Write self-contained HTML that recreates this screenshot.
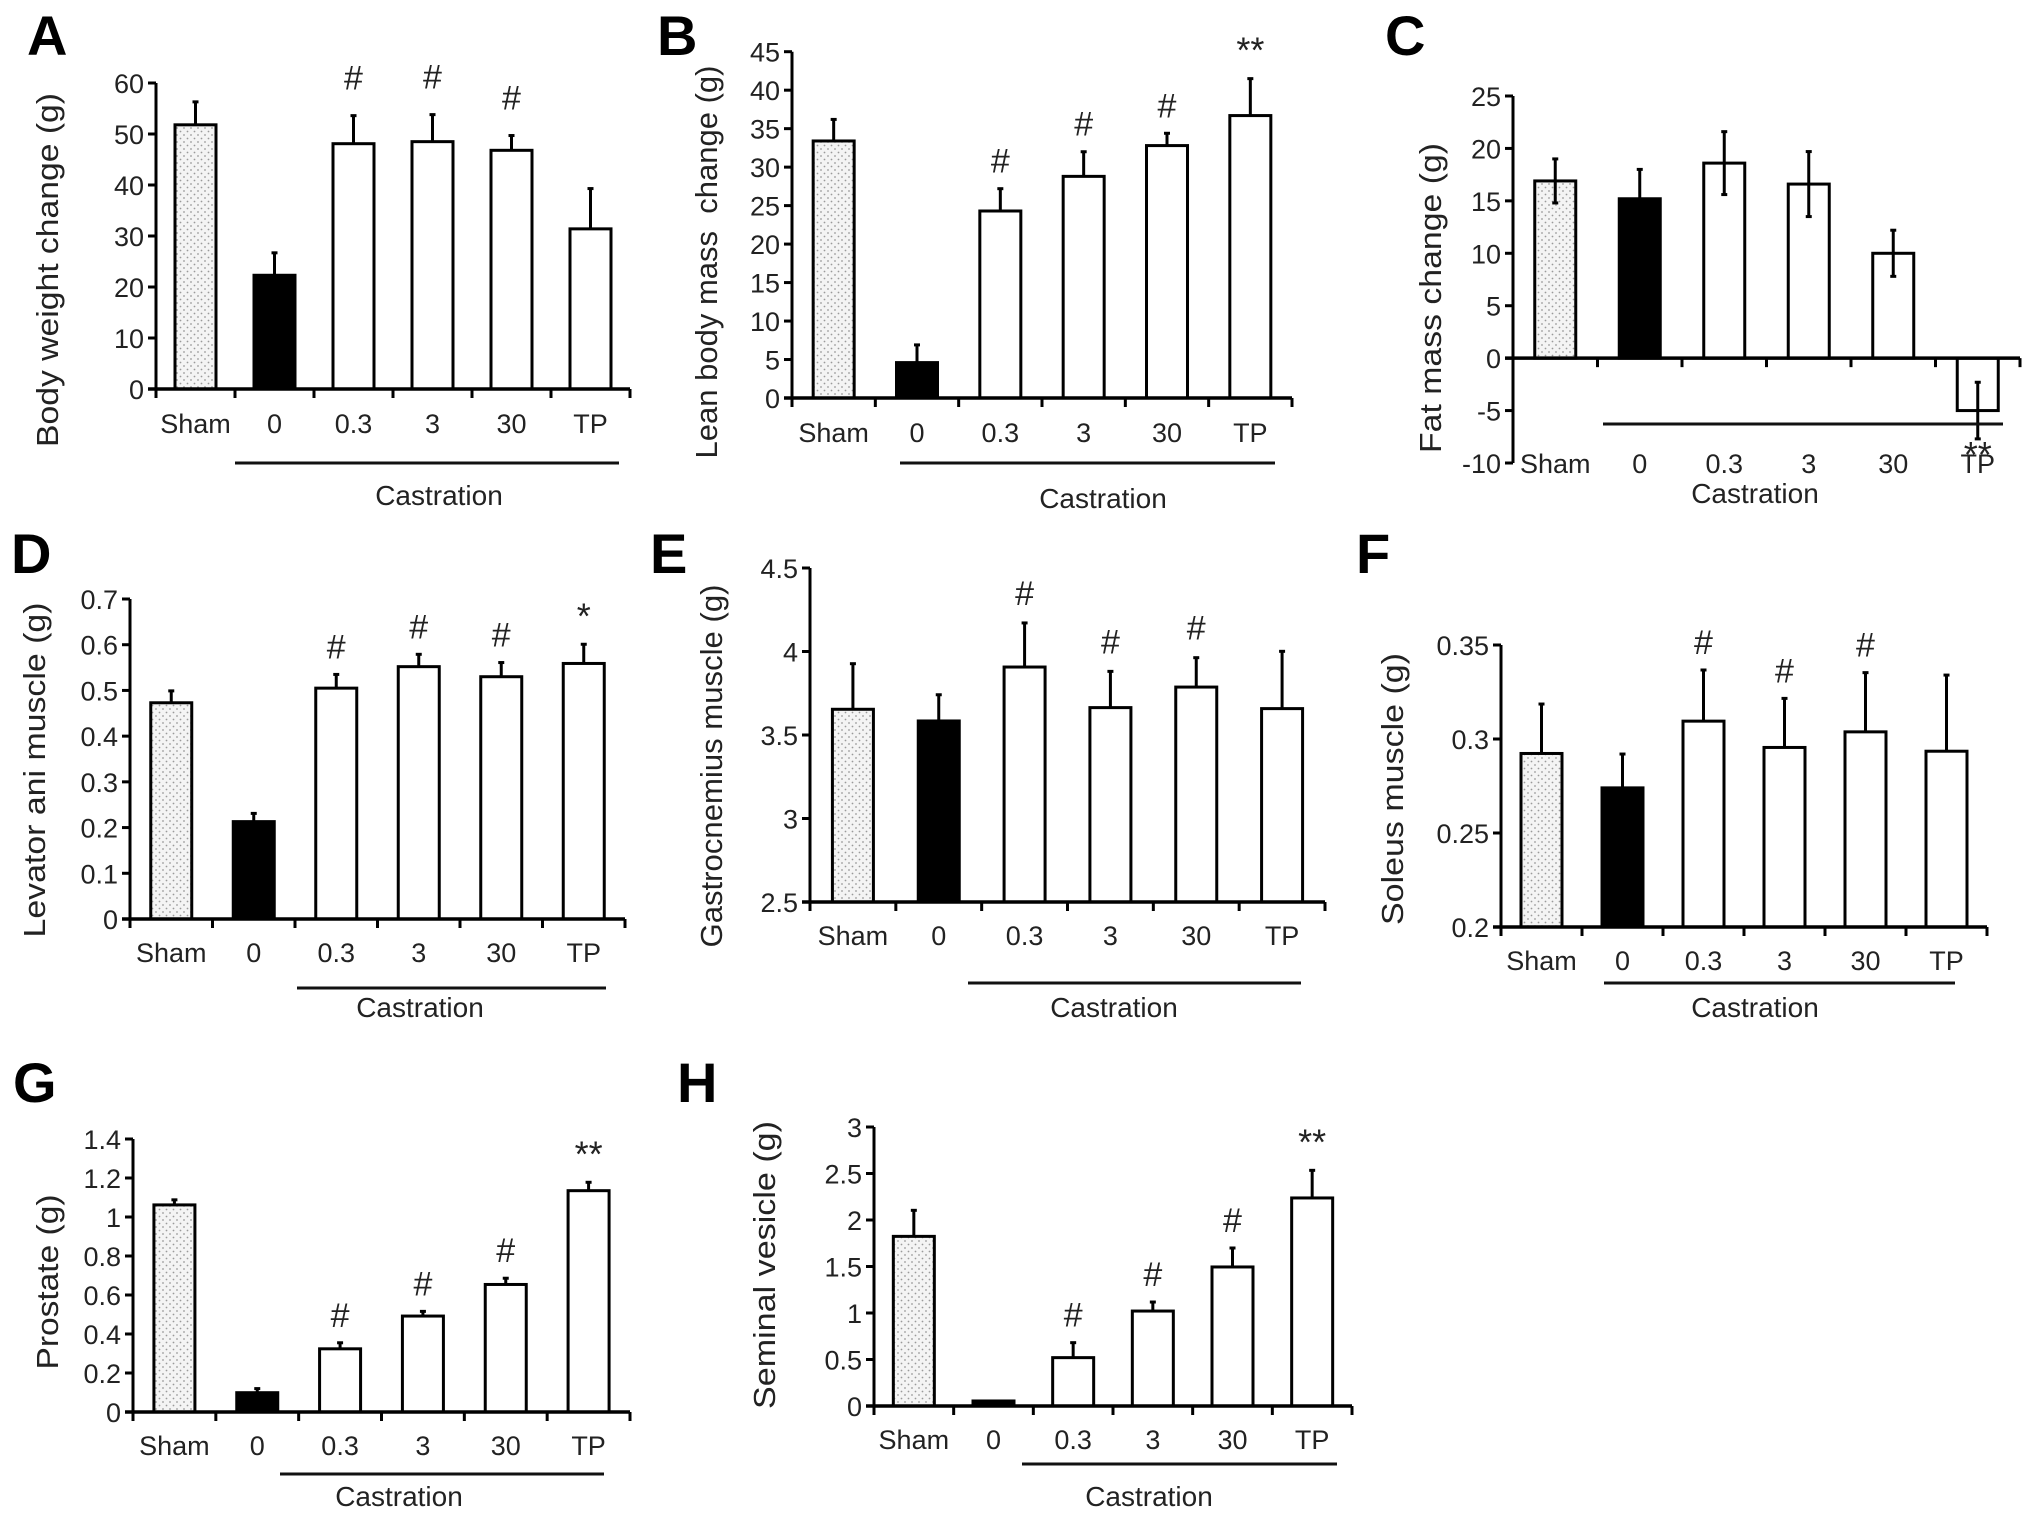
<!DOCTYPE html>
<html><head><meta charset="utf-8"><style>
html,body{margin:0;padding:0;background:#fff;}
svg{display:block;}
text{font-family:"Liberation Sans",Arial,sans-serif;fill:#222;}
</style></head><body>
<svg id="fig" width="2031" height="1519" viewBox="0 0 2031 1519" xmlns="http://www.w3.org/2000/svg">
<defs>
<pattern id="dots" width="7" height="7" patternUnits="userSpaceOnUse">
<rect width="7" height="7" fill="#f4f4f4"/>
<circle cx="2" cy="2" r="0.9" fill="#9a9a9a"/>
<circle cx="5.5" cy="5.5" r="0.9" fill="#9a9a9a"/>
</pattern>
</defs>
</svg>
<script>
const categories = ["Sham","0","0.3","3","30","TP"];
const valsA = [51.8,22.3,48.1,48.5,46.8,31.4];
const semA = [4.5,4.4,5.5,5.3,2.9,7.9];
const marksA = ["","","#","#","#",""];
const valsB = [33.4,4.6,24.3,28.8,32.8,36.7];
const semB = [2.8,2.3,2.9,3.2,1.6,4.8];
const marksB = ["","","#","#","#","**"];
const valsC = [16.9,15.2,18.6,16.6,10.0,-5.0];
const semC = [2.1,2.8,3.0,3.1,2.2,2.7];
const marksC = ["","","","","","**"];
const valsD = [0.473,0.213,0.505,0.552,0.530,0.559];
const semD = [0.026,0.018,0.030,0.027,0.031,0.042];
const marksD = ["","","#","#","#","*"];
const valsE = [3.654,3.584,3.907,3.664,3.787,3.658];
const semE = [0.273,0.157,0.264,0.217,0.176,0.343];
const marksE = ["","","#","#","#",""];
const valsF = [0.2923,0.274,0.3095,0.2955,0.3038,0.2935];
const semF = [0.0263,0.018,0.0272,0.0261,0.0315,0.0405];
const marksF = ["","","#","#","#",""];
const valsG = [1.062,0.099,0.324,0.492,0.654,1.135];
const semG = [0.026,0.021,0.031,0.024,0.032,0.043];
const marksG = ["","","#","#","#","**"];
const valsH = [1.824,0.054,0.52,1.021,1.495,2.237];
const semH = [0.28,0,0.161,0.097,0.204,0.297];
const marksH = ["","","#","#","#","**"];

const NS="http://www.w3.org/2000/svg";
const svg=document.getElementById('fig');
function mk(tag,attrs,parent){const e=document.createElementNS(NS,tag);for(const k in attrs)e.setAttribute(k,attrs[k]);(parent||svg).appendChild(e);return e;}

const panels=[
 {id:"a",letter:"A",lx:27,ly:55,title:"Body weight change (g)",tx:47,tcy:270,tlen:354,ax:156,yMinPx:389,yMaxPx:83,min:0,max:60,step:10,xEnd:630,lab:433,cast:[235,619,463],ct:[439,505],vals:valsA,sem:semA,marks:marksA,gap:26,two:false},
 {id:"b",letter:"B",lx:657,ly:55,title:"Lean body mass\u00a0 change (g)",tx:706,tcy:262,tlen:393,ax:792,yMinPx:398,yMaxPx:51.7,min:0,max:45,step:5,xEnd:1292,lab:442,cast:[900,1275,463],ct:[1103,508],vals:valsB,sem:semB,marks:marksB,gap:16,two:false},
 {id:"c",letter:"C",lx:1385,ly:55,title:"Fat mass change (g)",tx:1430,tcy:298,tlen:310,ax:1513,yMinPx:463,yMaxPx:96,min:-10,max:25,step:5,xEnd:2020,lab:473,cast:[1603,2003,424],ct:[1755,503],vals:valsC,sem:semC,marks:marksC,gap:16,two:true},
 {id:"d",letter:"D",lx:11,ly:573,title:"Levator ani muscle (g)",tx:34,tcy:770,tlen:335,ax:130,yMinPx:919,yMaxPx:599,min:0,max:0.7,step:0.1,xEnd:625,lab:962,cast:[297,606,988],ct:[420,1017],vals:valsD,sem:semD,marks:marksD,gap:16,two:false},
 {id:"e",letter:"E",lx:650,ly:573,title:"Gastrocnemius muscle (g)",tx:711,tcy:766,tlen:363,ax:810,yMinPx:902,yMaxPx:568,min:2.5,max:4.5,step:0.5,xEnd:1325,lab:945,cast:[968,1301,983],ct:[1114,1017],vals:valsE,sem:semE,marks:marksE,gap:18,two:false},
 {id:"f",letter:"F",lx:1356,ly:573,title:"Soleus muscle (g)",tx:1392,tcy:789,tlen:272,ax:1501,yMinPx:927,yMaxPx:645,min:0.2,max:0.35,step:0.05,xEnd:1987,lab:970,cast:[1604,1955,983],ct:[1755,1017],vals:valsF,sem:semF,marks:marksF,gap:16,two:false},
 {id:"g",letter:"G",lx:13,ly:1102,title:"Prostate (g)",tx:47,tcy:1282,tlen:175,ax:133,yMinPx:1412,yMaxPx:1139,min:0,max:1.4,step:0.2,xEnd:630,lab:1455,cast:[280,604,1474],ct:[399,1506],vals:valsG,sem:semG,marks:marksG,gap:16,two:false},
 {id:"h",letter:"H",lx:677,ly:1102,title:"Seminal vesicle (g)",tx:764,tcy:1265,tlen:288,ax:874,yMinPx:1406,yMaxPx:1127,min:0,max:3,step:0.5,xEnd:1352,lab:1449,cast:[1022,1337,1464],ct:[1149,1506],vals:valsH,sem:semH,marks:marksH,gap:16,two:false}
];

panels.forEach(p=>{
 const g=mk('g',{});
 
 
 const y=v=>p.yMinPx-(v-p.min)/(p.max-p.min)*(p.yMinPx-p.yMaxPx);
 const cw=(p.xEnd-p.ax)/categories.length;
 const xc=i=>p.ax+cw*(i+0.5);
 const bv=(p.min<0)?0:p.min;
 const base=y(bv);
 const L=mk('text',{x:p.lx,y:p.ly,'font-size':56,'font-weight':'bold',style:'fill:#000'},g);
 L.textContent=p.letter;
 
 
 const T=mk('text',{x:0,y:0,'font-size':31,'text-anchor':'middle',textLength:p.tlen,lengthAdjust:'spacingAndGlyphs',transform:`translate(${p.tx+11},${p.tcy}) rotate(-90)`},g);
 T.textContent=p.title;
 
 
 p.vals.forEach((v,i)=>{
  const top=y(Math.max(v,bv)), bot=y(Math.min(v,bv));
  const fill=i===0?'url(#dots)':(i===1?'#000':'#fff');
  const r=mk('rect',{x:xc(i)-20.5,y:top,width:41,height:Math.max(bot-top,0.5),fill:fill,stroke:'#000','stroke-width':3},g);
  
  
  const s=p.sem[i];
  if(s>0){
   const hi=v+s, lo=p.two?v-s:(v>=bv?v:v-s);
   const e1=mk('line',{x1:xc(i),x2:xc(i),y1:y(lo),y2:y(hi),stroke:'#000','stroke-width':3},g);
   
   
   mk('line',{x1:xc(i)-3,x2:xc(i)+3,y1:y(hi),y2:y(hi),stroke:'#000','stroke-width':3},g);
   if(p.two) mk('line',{x1:xc(i)-3,x2:xc(i)+3,y1:y(lo),y2:y(lo),stroke:'#000','stroke-width':3},g);
  }
  if(p.marks[i]){
   let my;
   if(v<0){ my=y(v-s)+28; } else { my=y(v+s)-p.gap; }
   const m=mk('text',{x:xc(i),y:my,'font-size':p.marks[i]==='#'?34:36,'text-anchor':'middle'},g);
   m.textContent=p.marks[i];
   
   
  }
 });
 const ya=mk('line',{x1:p.ax,x2:p.ax,y1:p.yMaxPx,y2:p.yMinPx,stroke:'#000','stroke-width':3},g);
 
 
 const xa=mk('line',{x1:p.ax-8,x2:p.xEnd,y1:base,y2:base,stroke:'#000','stroke-width':3.5},g);
 
 
 for(let k=0;k<=categories.length;k++){
  const tx=p.ax+cw*k;
  mk('line',{x1:tx,x2:tx,y1:base,y2:base+9,stroke:'#000','stroke-width':3},g);
 }
 const n=Math.round((p.max-p.min)/p.step);
 for(let k=0;k<=n;k++){
  const v=p.min+k*p.step, py=y(v);
  mk('line',{x1:p.ax-8,x2:p.ax,y1:py,y2:py,stroke:'#000','stroke-width':3},g);
  const t=mk('text',{x:p.ax-12,y:py+10,'font-size':27,'text-anchor':'end'},g);
  t.textContent=String(parseFloat(v.toFixed(3)));
  
  
 }
 categories.forEach((c,i)=>{
  const t=mk('text',{x:xc(i),y:p.lab,'font-size':27,'text-anchor':'middle'},g);
  t.textContent=c;
  
  
 });
 const cl=mk('line',{x1:p.cast[0],x2:p.cast[1],y1:p.cast[2],y2:p.cast[2],stroke:'#111','stroke-width':3},g);
 
 
 const ct=mk('text',{x:p.ct[0],y:p.ct[1],'font-size':28,'text-anchor':'middle'},g);
 ct.textContent="Castration";
 
 
});
</script>
</body></html>
